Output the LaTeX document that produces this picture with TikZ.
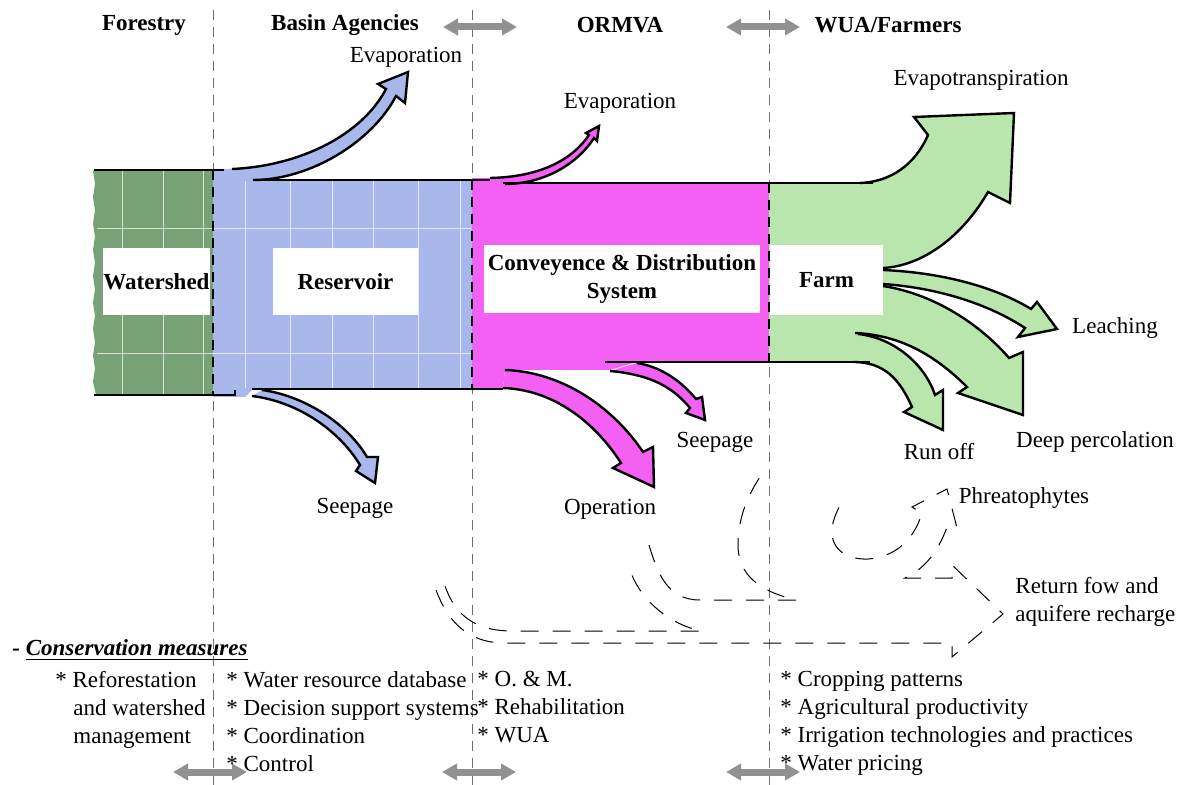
\documentclass[tikz,border=0pt]{standalone}
\usepackage{fontspec}
\setmainfont{Liberation Serif}
\usetikzlibrary{arrows.meta}

\definecolor{shedgreen}{RGB}{118,162,118}
\definecolor{resblue}{RGB}{168,184,236}
\definecolor{convpink}{RGB}{244,96,244}
\definecolor{farmgreen}{RGB}{184,230,172}
\definecolor{sepgray}{RGB}{110,110,110}
\definecolor{swapgray}{RGB}{145,145,145}

\tikzset{
  every node/.style={font=\fontsize{11.5}{14}\selectfont, inner sep=0pt},
  head/.style={font=\fontsize{11.5}{14}\selectfont\bfseries},
  labelbox/.style={fill=white, align=center, font=\fontsize{11.5}{14}\selectfont\bfseries},
  measure/.style={align=left, anchor=north west},
  rim/.style={line width=1.2pt, line join=miter},
  sep/.style={sepgray, dash pattern=on 5pt off 3.5pt, line width=0.5pt},
  bandsep/.style={black, dash pattern=on 5pt off 3.5pt, line width=0.6pt},
  streak/.style={white, line width=0.4pt, opacity=0.7},
  swap/.style={swapgray, line width=3.5pt, {Triangle[width=8pt,length=7.5pt]}-{Triangle[width=8pt,length=7.5pt]}},
  ret/.style={dash pattern=on 9pt off 7pt, line width=0.5pt},
}

\begin{document}
\begin{tikzpicture}[x=0.5pt, y=-0.5pt]
  \useasboundingbox (0,0) rectangle (1187,785);
  \foreach \sx in {213,472,769} \draw[sep] (\sx,10) -- (\sx,785);

  \node[head] (forestry) at (144,25) {Forestry};
  \node[head] (basin) at (345,25) {Basin Agencies};
  \node[head] (ormva) at (620,25) {ORMVA};
  \node[head] (wua) at (888,25) {WUA/Farmers};
  \foreach \ax/\ay in {480/27,763/27,210/772,479/772,763/772}
    \draw[swap] (\ax-37,\ay) -- (\ax+37,\ay);

  % water path
  \fill[shedgreen] (213,170) -- (213,395) -- (96,395) \foreach \k in {1,...,17} {-- ({95-2*mod(\k,2)},{395-\k*13.2})} -- (96,170) -- cycle;
  \fill[resblue] (213,169) -- (240,169) -- (253,180) -- (472,180) -- (472,389) -- (253,389) -- (245,397) -- (213,397) -- cycle;
  \fill[convpink] (472,178) -- (492,178) -- (505,183) -- (769,183) -- (769,362) -- (637,362) -- (610,370) -- (505,370) -- (503,389) -- (472,389) -- cycle;
  \fill[farmgreen] (769,183) -- (862,183) -- (883,268) -- (883,362) -- (769,362) -- cycle;
  \foreach \tx in {122,163,203} \draw[streak] (\tx,171) -- (\tx,394);
  \foreach \tx in {245,290,332,373,418,460} \draw[streak] (\tx,181) -- (\tx,388);
  \foreach \ty in {228,353} \draw[streak] (97,\ty) -- (471,\ty);

  \filldraw[rim, fill=resblue] (232,169) .. controls (300,166) and (362,135) .. (386,89) -- (378,84) -- (408,72) -- (405,103) -- (396,96) .. controls (372,142) and (310,180) .. (253,180);
  \filldraw[rim, fill=resblue] (262,390) .. controls (300,395) and (345,420) .. (367,457) -- (378,457) -- (375,483) -- (356,471) -- (360,465) .. controls (340,432) and (300,402) .. (252,396);
  \filldraw[rim, fill=convpink] (490,178) .. controls (540,177) and (572,160) .. (589,135) -- (586,133) -- (599,126) -- (597,141) -- (594,138) .. controls (578,163) and (545,184) .. (505,184);
  \filldraw[rim, fill=convpink] (505,370) .. controls (565,372) and (615,410) .. (643,452) -- (653,447) -- (654,487) -- (613,468) -- (621,463) .. controls (600,430) and (560,390) .. (503,388);
  \filldraw[rim, fill=convpink] (637,363) .. controls (662,367) and (682,382) .. (696,399) -- (702,397) -- (705,420) -- (686,413) -- (690,408) .. controls (675,390) and (655,375) .. (610,371);
  \filldraw[rim, fill=farmgreen] (860,183) .. controls (890,182) and (915,165) .. (928,135) -- (914,117) -- (1014,113) -- (1010,203) -- (988,192) .. controls (960,240) and (920,266) .. (883,268);
  \filldraw[rim, fill=farmgreen] (883,270) .. controls (950,273) and (1000,290) .. (1031,309) -- (1037,302) -- (1057,329) -- (1018,337) -- (1025,328) .. controls (990,305) and (940,288) .. (883,284);
  \filldraw[rim, fill=farmgreen] (883,286) .. controls (940,295) and (985,330) .. (1009,358) -- (1023,352) -- (1023,415) -- (958,393) -- (967,387) .. controls (935,355) and (900,335) .. (855,333);
  \filldraw[rim, fill=farmgreen] (858,334) .. controls (895,338) and (925,365) .. (935,395) -- (943,390) -- (943,430) -- (904,412) -- (912,407) .. controls (900,380) and (885,362) .. (853,362);

  \draw[rim] (94,170) -- (224,170);
  \draw[rim] (94,395) -- (235,395) -- (235,390);
  \draw[rim] (253,180) -- (490,180);
  \draw[rim] (252,389) -- (503,389);
  \draw[rim] (503,183) -- (873,183);
  \draw[rim] (605,362) -- (870,362);
  \draw[bandsep] (213,170) -- (213,395);
  \draw[bandsep] (472,180) -- (472,389);
  \draw[bandsep] (769,183) -- (769,362);

  \node[labelbox, minimum width=52.5pt, minimum height=33.5pt] (watershed) at (156.5,281.5) {Watershed};
  \node[labelbox, minimum width=72.5pt, minimum height=33.5pt] (reservoir) at (345.5,281.5) {Reservoir};
  \node[labelbox, minimum width=138pt, minimum height=34pt] (conveyance) at (622,279) {Conveyence \& Distribution\\System};
  \node[labelbox, minimum width=56.5pt, minimum height=35pt] (farm) at (826.5,280) {Farm};

  \node (evapres) at (406,57) {Evaporation};
  \node (evapconv) at (620,103) {Evaporation};
  \node (evapotr) at (981,80) {Evapotranspiration};
  \node (leach) at (1115,328) {Leaching};
  \node (deepperc) at (1095,442) {Deep percolation};
  \node (runoff) at (939,452) {Run off};
  \node (seepres) at (355,508) {Seepage};
  \node (seepconv) at (715,442) {Seepage};
  \node (operation) at (610,509) {Operation};
  \node (phreato) at (1024,498) {Phreatophytes};
  \node[align=left, anchor=west] (returnflow) at (1015,602) {Return fow and\\aquifere recharge};

  % return flows
  \draw[ret] (436,590) .. controls (448,622) and (468,643) .. (505,643) -- (952,643) -- (952,657) -- (1003,614) -- (952,565) -- (952,578) -- (905,578) .. controls (922,570) and (937,555) .. (947,527) -- (957,528) -- (947,489) -- (912,507) -- (922,513) .. controls (914,540) and (895,557) .. (868,559) .. controls (842,560) and (830,545) .. (832,528) .. controls (834,515) and (840,505) .. (845,497);
  \draw[ret] (445,586) .. controls (455,615) and (475,631) .. (512,631) -- (702,631) .. controls (670,625) and (640,600) .. (630,570);
  \draw[ret] (649,545) .. controls (658,575) and (668,600) .. (700,600) -- (797,600) .. controls (760,592) and (738,575) .. (738,545) .. controls (738,515) and (750,490) .. (765,470);

  \node[anchor=west, font=\fontsize{11.5}{14}\selectfont\bfseries\itshape] (measures) at (12,650) {- \underline{Conservation measures}};
  \node[measure] (forestmeas) at (55,671) {* Reforestation\\\hspace*{9pt}and watershed\\\hspace*{9pt}management};
  \node[measure] (basinmeas) at (226,671) {* Water resource database\\* Decision support systems\\* Coordination\\* Control};
  \node[measure] (ormvameas) at (477,671) {* O. \& M.\\* Rehabilitation\\* WUA};
  \node[measure] (farmmeas) at (780,671) {* Cropping patterns\\* Agricultural productivity\\* Irrigation technologies and practices\\* Water pricing};
\end{tikzpicture}
\end{document}
